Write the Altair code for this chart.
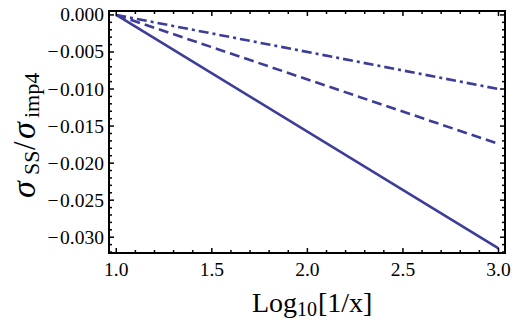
import altair as alt
import pandas as pd

# ---- data ----
x_end = [1.0, 3.0]
solid_vals = [0.0, -0.0315]
dashed_vals = [0.0, -0.0174]
dashdot_vals = [0.0, -0.0100]

x_major = [1.0, 1.5, 2.0, 2.5, 3.0]
x_labels = ["1.0", "1.5", "2.0", "2.5", "3.0"]
x_minor = [1.1, 1.2, 1.3, 1.4, 1.6, 1.7, 1.8, 1.9, 2.1, 2.2, 2.3, 2.4,
           2.6, 2.7, 2.8, 2.9]
y_major = [0.0, -0.005, -0.010, -0.015, -0.020, -0.025, -0.030]
y_labels = ["0.000", "\u2212\u200a0.005", "\u2212\u200a0.010",
            "\u2212\u200a0.015", "\u2212\u200a0.020", "\u2212\u200a0.025",
            "\u2212\u200a0.030"]
y_minor = [-0.001, -0.002, -0.003, -0.004, -0.006, -0.007, -0.008, -0.009,
           -0.011, -0.012, -0.013, -0.014, -0.016, -0.017, -0.018, -0.019,
           -0.021, -0.022, -0.023, -0.024, -0.026, -0.027, -0.028, -0.029,
           -0.031, -0.032]

x_title = ["Log", "10", "[1/x]"]
y_title = ["σ", "SS", "/", "σ", "imp4"]

# ---- styling ----
W, H = 396, 242
PAD_L, PAD_T = 101, 3
FONT = "Liberation Serif"
COLOR = "#3d3d99"
LW = 2.6
LAB = 19.5

xs = alt.Scale(domain=[0.962, 3.034], nice=False, zero=False)
ys = alt.Scale(domain=[-0.03213, 0.00053], nice=False, zero=False)


def line_layer(vals, dash=None):
    df = pd.DataFrame({"x": x_end, "y": vals})
    kw = dict(color=COLOR, strokeWidth=LW)
    if dash:
        kw["strokeDash"] = dash
    return alt.Chart(df).mark_line(**kw).encode(
        x=alt.X("x:Q", scale=xs, axis=None),
        y=alt.Y("y:Q", scale=ys, axis=None),
    )


def xticks(vals, L):
    df = pd.DataFrame({"t": vals})
    base = alt.Chart(df).mark_rule(color="black", strokeWidth=1.5)
    enc = alt.X("t:Q", scale=xs, axis=None)
    return (base.encode(x=enc, y=alt.value(H), y2=alt.value(H - L)) +
            base.encode(x=enc, y=alt.value(0), y2=alt.value(L)))


def yticks(vals, L):
    df = pd.DataFrame({"t": vals})
    base = alt.Chart(df).mark_rule(color="black", strokeWidth=1.5)
    enc = alt.Y("t:Q", scale=ys, axis=None)
    return (base.encode(y=enc, x=alt.value(0), x2=alt.value(L)) +
            base.encode(y=enc, x=alt.value(W), x2=alt.value(W - L)))


x_lab = alt.Chart(pd.DataFrame({"t": x_major, "s": x_labels})).mark_text(
    font=FONT, fontSize=LAB, align="center", baseline="alphabetic",
    color="black").encode(
    x=alt.X("t:Q", scale=xs, axis=None), y=alt.value(H + 23), text="s:N")

y_lab = alt.Chart(pd.DataFrame({"t": y_major, "s": y_labels})).mark_text(
    font=FONT, fontSize=LAB, align="right", baseline="alphabetic", dy=6.5,
    color="black").encode(
    y=alt.Y("t:Q", scale=ys, axis=None), x=alt.value(-5), text="s:N")


def txt(s, x, y, size, angle=0, italic=False):
    kw = dict(text=s, font=FONT, fontSize=size, align="left",
              baseline="alphabetic", color="black")
    if angle:
        kw["angle"] = angle
    if italic:
        kw["fontStyle"] = "italic"
    return alt.Chart(pd.DataFrame({"a": [0]})).mark_text(**kw).encode(
        x=alt.value(x), y=alt.value(y))


layers = [
    line_layer(solid_vals),
    line_layer(dashed_vals, dash=[10, 5]),
    line_layer(dashdot_vals, dash=[10, 4, 3, 4]),
    xticks(x_major, 5), xticks(x_minor, 3),
    yticks(y_major, 5), yticks(y_minor, 3),
    x_lab, y_lab,
    # x title: Log_10[1/x]
    txt(x_title[0], 143, 301, 28),
    txt(x_title[1], 188, 305, 20),
    txt(x_title[2], 209, 301, 28),
    # y title: sigma_SS / sigma_imp4 (rotated)
    txt(y_title[0], -74, 187, 34, angle=270, italic=True),
    txt(y_title[1], -70, 164, 22, angle=270),
    txt(y_title[2], -74, 139, 31, angle=270),
    txt(y_title[3], -74, 128, 34, angle=270, italic=True),
    txt(y_title[4], -70, 107, 22, angle=270),
]

chart = alt.layer(*layers).properties(
    width=W, height=H,
    autosize=alt.AutoSizeParams(type="none"),
    padding={"left": PAD_L, "top": PAD_T, "right": 503 - PAD_L - W,
             "bottom": 311 - PAD_T - H},
).configure_view(stroke="black", strokeWidth=2)

chart.save("out.html", embed_options={"renderer": "svg", "actions": False})
